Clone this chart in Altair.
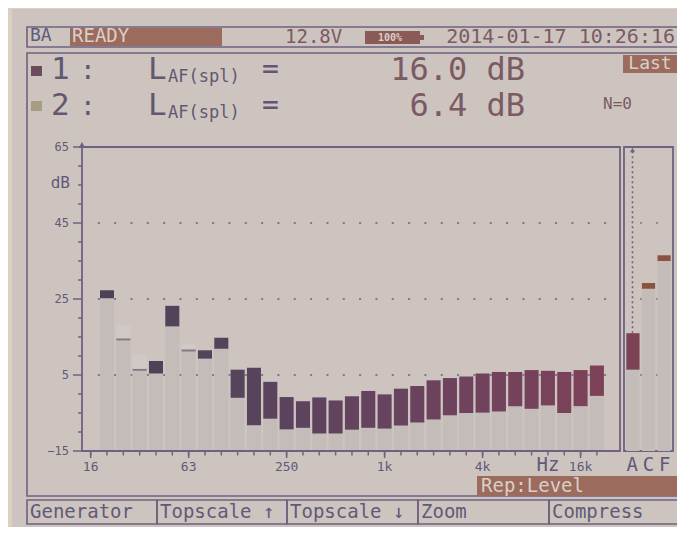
import altair as alt
import pandas as pd

# ---------------- data ----------------
bands = ["20", "25", "31.5", "40", "50", "63", "80", "100", "125", "160", "200",
         "250", "315", "400", "500", "630", "800", "1k", "1.25k", "1.6k", "2k",
         "2.5k", "3.15k", "4k", "5k", "6.3k", "8k", "10k", "12.5k", "16k", "20k"]
trace1 = [27.3, 14.6, 6.6, 8.7, 23.2, 11.7, 11.5, 14.8, 6.4, 6.9, 3.2,
          -0.8, -1.9, -0.9, -1.7, -0.6, 0.8, -0.1, 1.4, 2.1, 3.6,
          4.2, 4.6, 5.4, 5.8, 5.8, 6.3, 6.1, 5.8, 6.3, 7.5]
trace2 = [25.2, 18.0, 10.2, 5.4, 17.8, 13.0, 9.3, 11.9, -1.0, -8.2, -6.5,
          -9.3, -8.9, -10.4, -10.4, -9.4, -8.9, -9.1, -8.3, -7.5, -6.7,
          -5.6, -5.0, -4.9, -4.6, -3.2, -3.9, -3.0, -5.0, -3.2, -0.5]
tick_labels = ["16", "63", "250", "1k", "4k", "16k"]
tick_index = [-1, 5, 11, 17, 23, 29]
y_labels = [65, 45, 25, 5, -15]
y_minor = [60, 55, 50, 40, 35, 30, 20, 15, 10, 0, -5, -10]
grid_levels = [45, 25, 5]
acf_names = ["A", "C", "F"]
acf_trace1 = [16.0, 29.2, 36.5]
acf_trace2 = [6.4, 27.7, 35.0]
softkeys = ["Generator", "Topscale \u2191", "Topscale \u2193", "Zoom", "Compress"]

# ---------------- styles ----------------
MONO = "DejaVu Sans Mono"
LCD = "#cdc4c0"
BEIGE = "#dcd0c2"
FRAME = "#6f6280"
TXT = "#5f5a78"
NUM = "#7b5a63"
FILLBOX = "#9b6b5d"
LIGHTTXT = "#dacfc8"
LIGHTBAR = "#c3bcb8"
FAINT = "#d0cac7"

one = pd.DataFrame({"k": [0]})
base = alt.Chart(one)


def txt(s, x, y, size, color=TXT, align="left", weight="normal"):
    return base.mark_text(text=s, align=align, baseline="middle", fontSize=size,
                          font=MONO, color=color, fontWeight=weight).encode(
        x=alt.value(x), y=alt.value(y))


def box(x1, y1, x2, y2, fill=None, stroke=None, sw=1.6):
    kw = {}
    if fill:
        kw["fill"] = fill
    else:
        kw["fillOpacity"] = 0
    if stroke:
        kw["stroke"] = stroke
        kw["strokeWidth"] = sw
    return base.mark_rect(**kw).encode(x=alt.value(x1), x2=alt.value(x2),
                                       y=alt.value(y1), y2=alt.value(y2))


layers = []
# LCD background
layers.append(box(4, 1, 672, 519, fill=LCD))
# header
layers.append(box(62, 20, 214, 38, fill=FILLBOX))
layers.append(box(357, 23, 412, 36, fill="#8a5a56"))
layers.append(box(412, 27, 416, 32, fill="#8a5a56"))
layers.append(box(19, 19, 670, 39, stroke=FRAME))
layers.append(box(19, 45, 670, 488, stroke=FRAME))
layers.append(box(615, 47, 669, 65, fill=FILLBOX))
layers.append(box(469, 468, 669, 488, fill=FILLBOX))
# softkey boxes
kx = [19, 149, 279, 410, 541, 670]
for a, b in zip(kx[:-1], kx[1:]):
    layers.append(box(a, 492, b, 516, stroke=FRAME))

# ---------------- spectrum ----------------
xs = alt.Scale(domain=[-1, 30], range=[82.67, 588.9], zero=False, nice=False)
ys = alt.Scale(domain=[-15, 65], range=[443, 139], zero=False, nice=False)

# dotted grid
grid = pd.DataFrame([(lv, i - 0.5) for lv in grid_levels for i in range(32)],
                    columns=["lv", "g"])
layers.append(alt.Chart(grid).mark_square(size=4, color="#7a6e88", opacity=0.9).encode(
    x=alt.X("g:Q", scale=xs, axis=None), y=alt.Y("lv:Q", scale=ys, axis=None)))
acfgrid = pd.DataFrame({"lv": grid_levels})
for gx in [633, 649]:
    layers.append(alt.Chart(acfgrid).mark_square(size=4, color="#7a6e88").encode(
        x=alt.value(gx), y=alt.Y("lv:Q", scale=ys, axis=None)))

df = pd.DataFrame({"i": list(range(len(bands))), "band": bands,
                   "t1": trace1, "t2": trace2})
bars = alt.Chart(df).transform_calculate(
    x0="datum.i - 0.43", x1="datum.i + 0.43",
    lo="min(datum.t1, datum.t2)", floor="-15", t1b="datum.t1 - 0.5")
X0 = alt.X("x0:Q", scale=xs, axis=None)
layers.append(bars.mark_rect(color=LIGHTBAR).encode(
    x=X0, x2="x1:Q", y=alt.Y("lo:Q", scale=ys, axis=None), y2="floor:Q"))
layers.append(bars.transform_filter("datum.t1 >= datum.t2").mark_rect().encode(
    x=X0, x2="x1:Q", y=alt.Y("t2:Q", scale=ys, axis=None), y2="t1:Q",
    color=alt.Color("i:Q", scale=alt.Scale(domain=[0, 30], range=["#4a4257", "#7d4258"]),
                    legend=None)))
layers.append(bars.transform_filter("datum.t1 < datum.t2").mark_rect(color=FAINT).encode(
    x=X0, x2="x1:Q", y=alt.Y("t1:Q", scale=ys, axis=None), y2="t2:Q"))
layers.append(bars.transform_filter("datum.t1 < datum.t2").mark_rect(color="#857a84").encode(
    x=X0, x2="x1:Q", y=alt.Y("t1:Q", scale=ys, axis=None), y2="t1b:Q"))

# plot frames
layers.append(box(74, 139, 612, 443, stroke=FRAME, sw=1.8))
layers.append(box(616, 139, 665, 443, stroke=FRAME, sw=1.8))
layers.append(base.mark_point(shape="triangle-up", filled=True, size=45, color=FRAME, opacity=1).encode(
    x=alt.value(74), y=alt.value(137)))

# x ticks and labels
ticks = pd.DataFrame({"i": list(range(-1, len(bands)))})
layers.append(alt.Chart(ticks).mark_rule(color=FRAME, strokeWidth=1.5).encode(
    x=alt.X("i:Q", scale=xs, axis=None), y=alt.value(443), y2=alt.value(447.5)))
tl = pd.DataFrame({"i": tick_index, "lab": tick_labels})
layers.append(alt.Chart(tl).mark_rule(color=FRAME, strokeWidth=1.5).encode(
    x=alt.X("i:Q", scale=xs, axis=None), y=alt.value(443), y2=alt.value(450)))
layers.append(alt.Chart(tl).mark_text(font=MONO, fontSize=13, color=TXT, baseline="middle").encode(
    x=alt.X("i:Q", scale=xs, axis=None), y=alt.value(459), text="lab:N"))
layers.append(txt("Hz", 540, 457, 19, align="center"))

# y ticks and labels
yl = pd.DataFrame({"v": y_labels})
layers.append(alt.Chart(yl).mark_rule(color=FRAME, strokeWidth=1.5).encode(
    y=alt.Y("v:Q", scale=ys, axis=None), x=alt.value(65), x2=alt.value(74)))
layers.append(alt.Chart(yl).mark_text(font=MONO, fontSize=12, color=TXT, align="right",
                                      baseline="middle").encode(
    y=alt.Y("v:Q", scale=ys, axis=None), x=alt.value(61), text="v:Q"))
ym = pd.DataFrame({"v": y_minor})
layers.append(alt.Chart(ym).mark_rule(color=FRAME, strokeWidth=1.5).encode(
    y=alt.Y("v:Q", scale=ys, axis=None), x=alt.value(70), x2=alt.value(74)))
layers.append(txt("dB", 62, 175, 16, align="right"))

# ---------------- A C F panel ----------------
acf = pd.DataFrame({"n": acf_names, "t1": acf_trace1, "t2": acf_trace2})
ax = alt.Scale(domain=acf_names, range=[616, 665], paddingInner=0.15, paddingOuter=0.15)
acfc = alt.Chart(acf).transform_calculate(floor="-15")
layers.append(acfc.mark_bar(color=LIGHTBAR).encode(
    x=alt.X("n:N", scale=ax, axis=None), y=alt.Y("t2:Q", scale=ys, axis=None), y2="floor:Q"))
layers.append(acfc.mark_bar().encode(
    x=alt.X("n:N", scale=ax, axis=None), y=alt.Y("t2:Q", scale=ys, axis=None), y2="t1:Q",
    color=alt.Color("n:N", scale=alt.Scale(domain=acf_names,
                                           range=["#7d4254", "#8a5240", "#8a5240"]),
                    legend=None)))
layers.append(acfc.transform_filter("datum.n == 'A'").mark_rule(
    color=FRAME, strokeWidth=1.6, strokeDash=[2, 3]).encode(
    x=alt.value(624.5), y=alt.Y("t1:Q", scale=ys, axis=None), y2=alt.value(142)))
layers.append(base.mark_point(shape="triangle-up", filled=True, size=25, color=FRAME, opacity=1).encode(
    x=alt.value(624.5), y=alt.value(142)))
layers.append(acfc.mark_text(font=MONO, fontSize=19, color=TXT, baseline="middle").encode(
    x=alt.X("n:N", scale=ax, axis=None, bandPosition=0.5), y=alt.value(457), text="n:N"))

# ---------------- texts ----------------
layers.append(txt("BA", 22, 28, 18))
layers.append(txt("READY", 64, 28, 19, color=LIGHTTXT))
layers.append(txt("12.8V", 277, 29, 19, color=NUM))
layers.append(txt("100%", 382, 29.5, 10, color=LIGHTTXT, align="center", weight="bold"))
layers.append(txt("2014-01-17 10:26:16", 667, 29, 20, color=NUM, align="right"))

layers.append(box(23, 58, 34, 68, fill="#6a4d5c"))
layers.append(box(23, 93, 34, 103, fill="#a99c84"))
for row_y, num, val in [(62, "1", "16.0 dB"), (98, "2", "6.4 dB")]:
    layers.append(txt(num, 43, row_y, 31, color="#615870"))
    layers.append(txt(":", 72, row_y + 1, 26, color="#615870"))
    layers.append(txt("L", 140, row_y, 31, color="#615870"))
    layers.append(txt("AF(spl)", 160, row_y + 7, 17, color="#615870"))
    layers.append(txt("=", 254, row_y, 28, color="#615870"))
    layers.append(txt(val, 517, row_y, 32, color=NUM, align="right"))
layers.append(txt("Last", 642, 56, 18, color=LIGHTTXT, align="center"))
layers.append(txt("N=0", 595, 96, 16, color=NUM))
layers.append(txt("Rep:Level", 473, 478, 19, color=LIGHTTXT))
for k, s in enumerate(softkeys):
    layers.append(txt(s, kx[k] + 3, 504, 19))

chart = alt.layer(*layers).resolve_scale(x="independent", color="independent").properties(
    width=669, height=519, autosize="none", padding=0, background=BEIGE
).configure_view(strokeWidth=0)

chart.save("out.html", embed_options={"renderer": "svg", "actions": False})
